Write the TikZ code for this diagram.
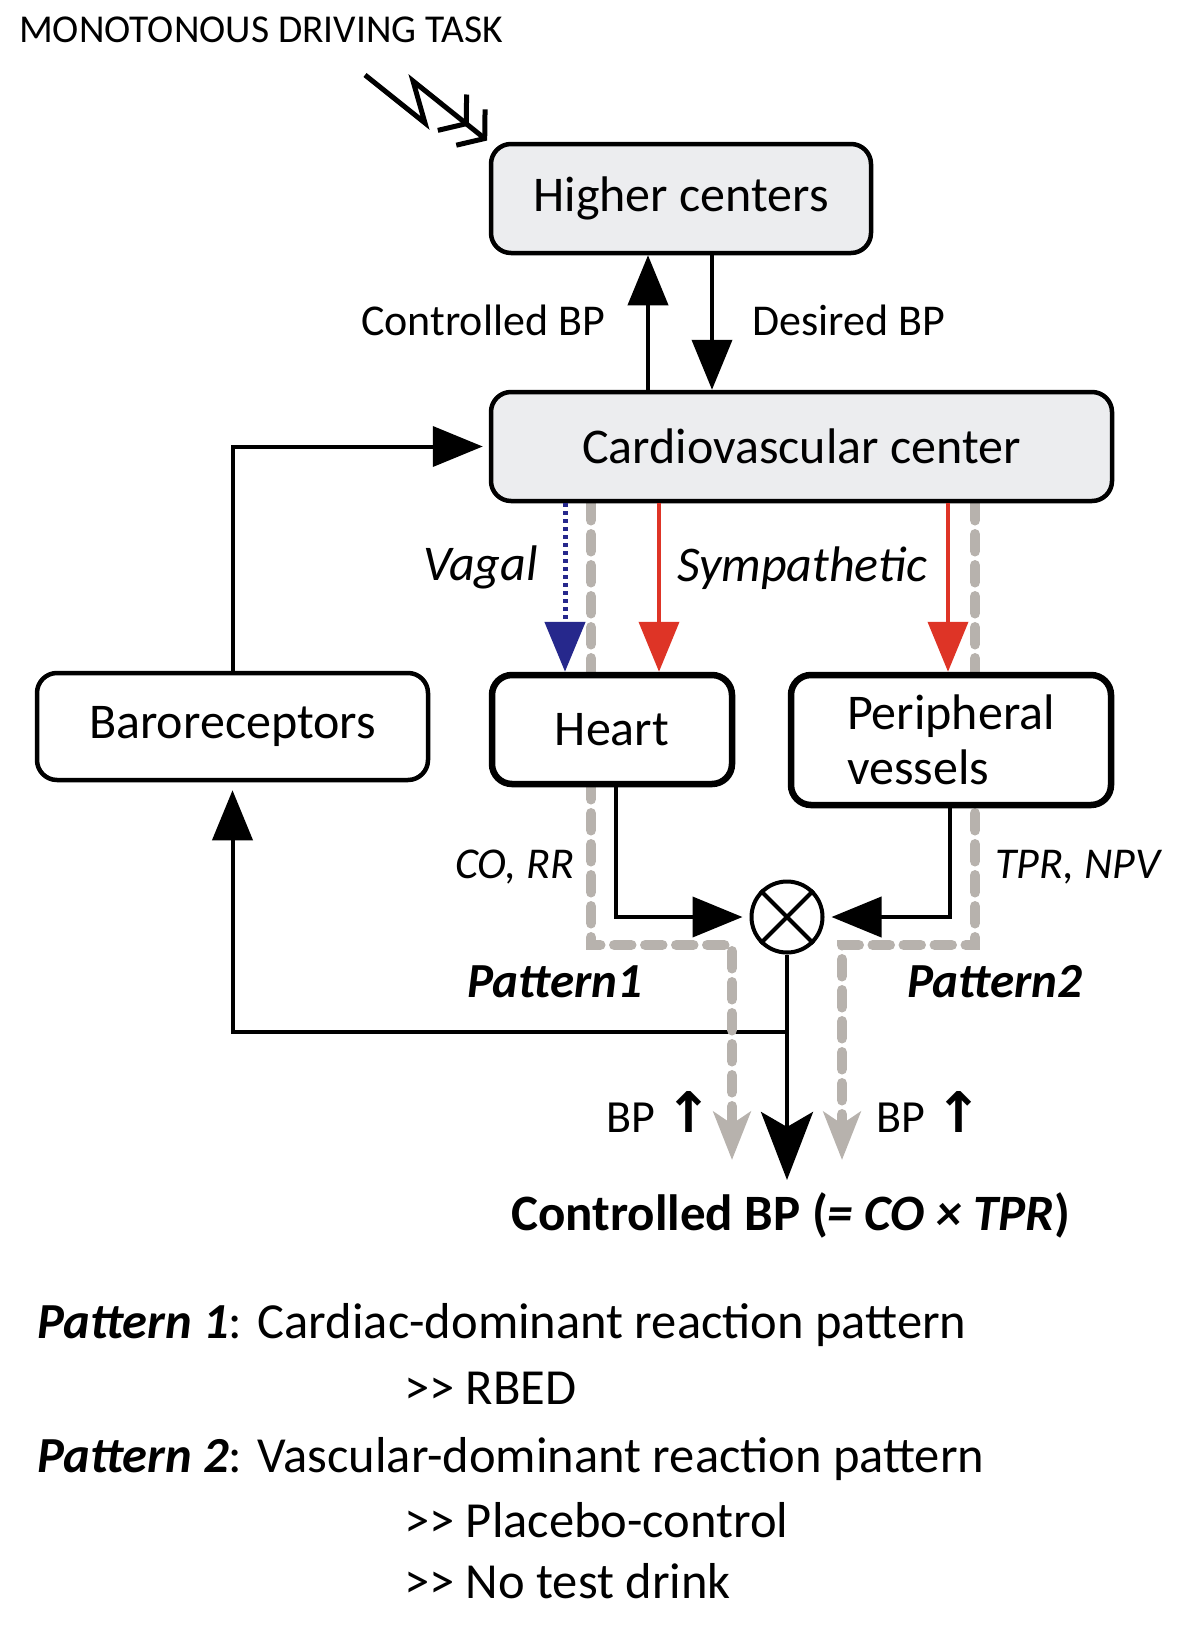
\documentclass[tikz,border=0pt]{standalone}
\usepackage{fontspec}
\setmainfont{Carlito}
\newfontfamily\arrowfont{DejaVu Sans}
\usetikzlibrary{arrows.meta}
\pgfdeclarelayer{back}
\pgfsetlayers{back,main}

\definecolor{boxgray}{RGB}{236,237,239}
\definecolor{pathgray}{RGB}{183,178,173}
\definecolor{symred}{RGB}{222,52,38}
\definecolor{vagblue}{RGB}{38,40,140}
\newcommand{\gtgt}{>\kern0pt>}
\newcommand{\uparr}{{\arrowfont\bfseries\fontsize{56}{60}\selectfont ↑}}

\tikzset{
  box/.style={draw,rounded corners=20pt,line width=4.5pt,inner sep=0pt,font=\fontsize{50}{55}\selectfont},
  organ/.style={box,line width=6.5pt,fill=white},
  lbl/.style={inner sep=0pt,anchor=base west,font=\fontsize{44}{48}\selectfont},
  big/.style={lbl,font=\fontsize{50.5}{55}\selectfont},
  tag/.style={lbl,font=\fontsize{50}{55}\selectfont\itshape},
  flow/.style={line width=4pt,-{Triangle[length=50pt,width=40pt]}},
  pat/.style={line width=10.5pt,pathgray,line cap=round,dash pattern=on 17pt off 14pt,
    -{Stealth[length=48pt,width=37pt,inset=12pt]}}
}

\begin{document}
\begin{tikzpicture}[x=1pt,y=-1pt]
  \useasboundingbox (0,0) rectangle (1200,1638);
  \node[lbl,font=\fontsize{39.5}{43}\selectfont] (task) at (19,42) {MONOTONOUS DRIVING TASK};
  \node[box,fill=boxgray,minimum width=380pt,minimum height=109pt] (hc) at (681,198.5) {Higher centers};
  \node[box,fill=boxgray,minimum width=621pt,minimum height=109pt] (cv) at (801.5,446.5) {Cardiovascular center};
  \node[box,fill=white,minimum width=391pt,minimum height=107pt] (baro) at (232.5,726.5) {Baroreceptors};
  \node[organ,minimum width=240pt,minimum height=109pt] (heart) at (612,729.5) {Heart};
  \node[organ,minimum width=320pt,minimum height=130pt,align=left] (pv) at (951,740) {Peripheral\\vessels};
  \node[circle,draw,line width=4pt,minimum size=71pt,inner sep=0pt] (sum) at (787,917) {};
  \draw[line width=4pt] (sum.north west) -- (sum.south east);
  \draw[line width=4pt] (sum.north east) -- (sum.south west);

  \node[lbl] (cbp) at (361,335) {Controlled BP};
  \node[lbl] (dbp) at (752,335) {Desired BP};
  \node[tag] (vag) at (423,580) {Vagal};
  \node[tag] (sym) at (677,581) {Sympathetic};
  \node[lbl,font=\fontsize{44}{48}\selectfont\itshape] (corr) at (455,878) {CO, RR};
  \node[lbl,font=\fontsize{44}{48}\selectfont\itshape] (tpr) at (995,878) {TPR, NPV};
  \node[lbl,font=\fontsize{49}{52}\selectfont\bfseries\itshape] (p1) at (467,997) {Pattern1};
  \node[lbl,font=\fontsize{49}{52}\selectfont\bfseries\itshape] (p2) at (907,997) {Pattern2};
  \node[lbl,font=\fontsize{46}{50}\selectfont] (bpl) at (606,1132) {BP \uparr};
  \node[lbl,font=\fontsize{46}{50}\selectfont] (bpr) at (876,1132) {BP \uparr};
  \node[big,font=\fontsize{51}{55}\selectfont\bfseries] (res) at (511,1230) {Controlled BP (\textit{= CO × TPR})};

  \node[big] (leg1) at (37,1338) {\textbf{\textit{Pattern 1}}: Cardiac-dominant reaction pattern};
  \node[big] (leg1a) at (404,1404) {\gtgt{} RBED};
  \node[big] (leg2) at (37,1472) {\textbf{\textit{Pattern 2}}: Vascular-dominant reaction pattern};
  \node[big] (leg2a) at (404,1537) {\gtgt{} Placebo-control};
  \node[big] (leg2b) at (404,1598) {\gtgt{} No test drink};

  \coordinate (bolt) at (365,75);
  \coordinate (xu) at (648,0);
  \coordinate (xd) at (712,0);
  \coordinate (xv) at (565,0);
  \coordinate (xs) at (659,0);
  \coordinate (xt) at (948,0);
  \coordinate (xh) at (616,0);
  \coordinate (xp) at (950,0);
  \coordinate (fb) at (0,1032);
  \coordinate (gy) at (0,945);
  \coordinate (g1) at (591,0);
  \coordinate (g2) at (732,1160);
  \coordinate (g3) at (975,0);
  \coordinate (g4) at (842,1160);

  \draw[line width=5pt,line join=miter,shorten >=2pt,
    -{Straight Barb[length=18pt,width=46pt] Straight Barb[length=18pt,width=46pt]}]
    (bolt) -- (425,123) -- (413,81) -- (hc.north west);
  \draw[flow] (cv.north -| xu) -- (hc.south -| xu);
  \draw[flow] (hc.south -| xd) -- (cv.north -| xd);
  \draw[flow,shorten >=6pt] (baro.north) |- (cv.west);
  \draw[flow,vagblue,line width=5pt,dash pattern=on 4pt off 4pt] (cv.south -| xv) -- (heart.north -| xv);
  \draw[flow,symred] (cv.south -| xs) -- (heart.north -| xs);
  \draw[flow,symred] (cv.south -| xt) -- (pv.north -| xt);
  \draw[flow,shorten >=7pt] (heart.south -| xh) |- (sum.west);
  \draw[flow,shorten >=7pt] (pv.south -| xp) |- (sum.east);
  \draw[line width=4pt,shorten >=12pt,-{Stealth[length=68pt,width=52pt,inset=15pt]}]
    (sum.south) -- (sum.south |- res.north);

  \begin{pgfonlayer}{back}
    \draw[flow,shorten >=8pt] (sum.south |- fb) -| (baro.south);
    \draw[pat] (cv.south -| g1) |- (g2 |- gy) -- (g2);
    \draw[pat] (cv.south -| g3) |- (g4 |- gy) -- (g4);
  \end{pgfonlayer}
\end{tikzpicture}
\end{document}
